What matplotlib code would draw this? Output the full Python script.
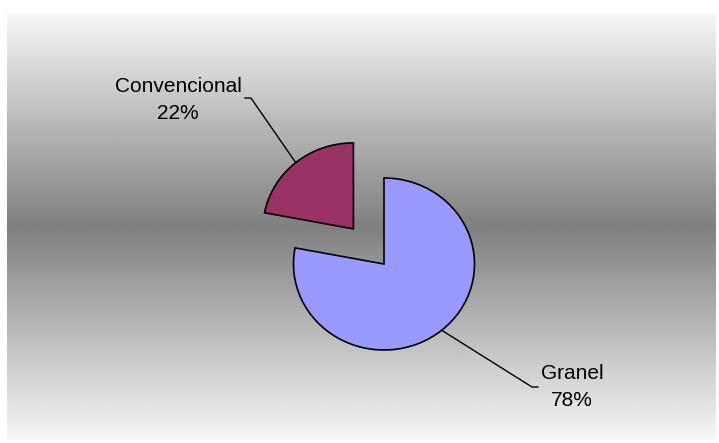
import numpy as np
import matplotlib.pyplot as plt

# Shipment type shares
categories = ["Granel", "Convencional"]
shares = [78, 22]
colors = ["#9999FF", "#993366"]

W, H = 719, 443
fig = plt.figure(figsize=(W / 100, H / 100), dpi=100)
fig.patch.set_facecolor("white")

# plot area background: white -> gray -> white vertical gradient
bg = fig.add_axes([0, 0, 1, 1])
bg.set_xlim(0, W)
bg.set_ylim(H, 0)
bg.axis("off")
top, bottom, left, right = 13, 440, 7, 716
mid = (top + bottom) / 2
rows = np.linspace(top, bottom, 400)
t = np.abs(rows - mid) / (mid - top)
light, dark = 0.965, 0.50
grad = (dark + (light - dark) * t)[:, None]
bg.imshow(np.repeat(grad, 2, axis=1), cmap="gray", vmin=0, vmax=1,
          extent=(left, right, bottom, top), aspect="auto", interpolation="bilinear")

# pie axes: one unit = radius of the pie
cx, cy = 384, 264
rx, ry = 90.5, 86
ax = fig.add_axes([0, 0, 1, 1])
ax.patch.set_alpha(0)
wedges, _ = ax.pie(shares, colors=colors, startangle=90, counterclock=False,
                   explode=[0, 0.53],
                   wedgeprops=dict(edgecolor="black", linewidth=1.2))
ax.set_aspect("auto")
ax.set_xlim(-cx / rx, (W - cx) / rx)
ax.set_ylim(-(H - cy) / ry, cy / ry)
ax.axis("off")

total = sum(shares)
label_pos = {"Granel": ((1.635, -1.43), (1.70, -1.43), (2.077, -1.43)),
             "Convencional": ((-1.47, 1.93), (-1.536, 1.93), (-2.276, 1.91))}
for w, name, v in zip(wedges, categories, shares):
    ang = np.deg2rad((w.theta1 + w.theta2) / 2)
    x0 = w.center[0] + w.r * np.cos(ang)
    y0 = w.center[1] + w.r * np.sin(ang)
    elbow, end, txt = label_pos[name]
    ax.plot([x0, elbow[0], end[0]], [y0, elbow[1], end[1]], color="black", lw=1.0)
    ax.text(txt[0], txt[1], f"{name}\n{v / total:.0%}", ha="center", va="center",
            fontsize=15, family="Liberation Sans", linespacing=1.55)

fig.savefig("out.png", dpi=100)
